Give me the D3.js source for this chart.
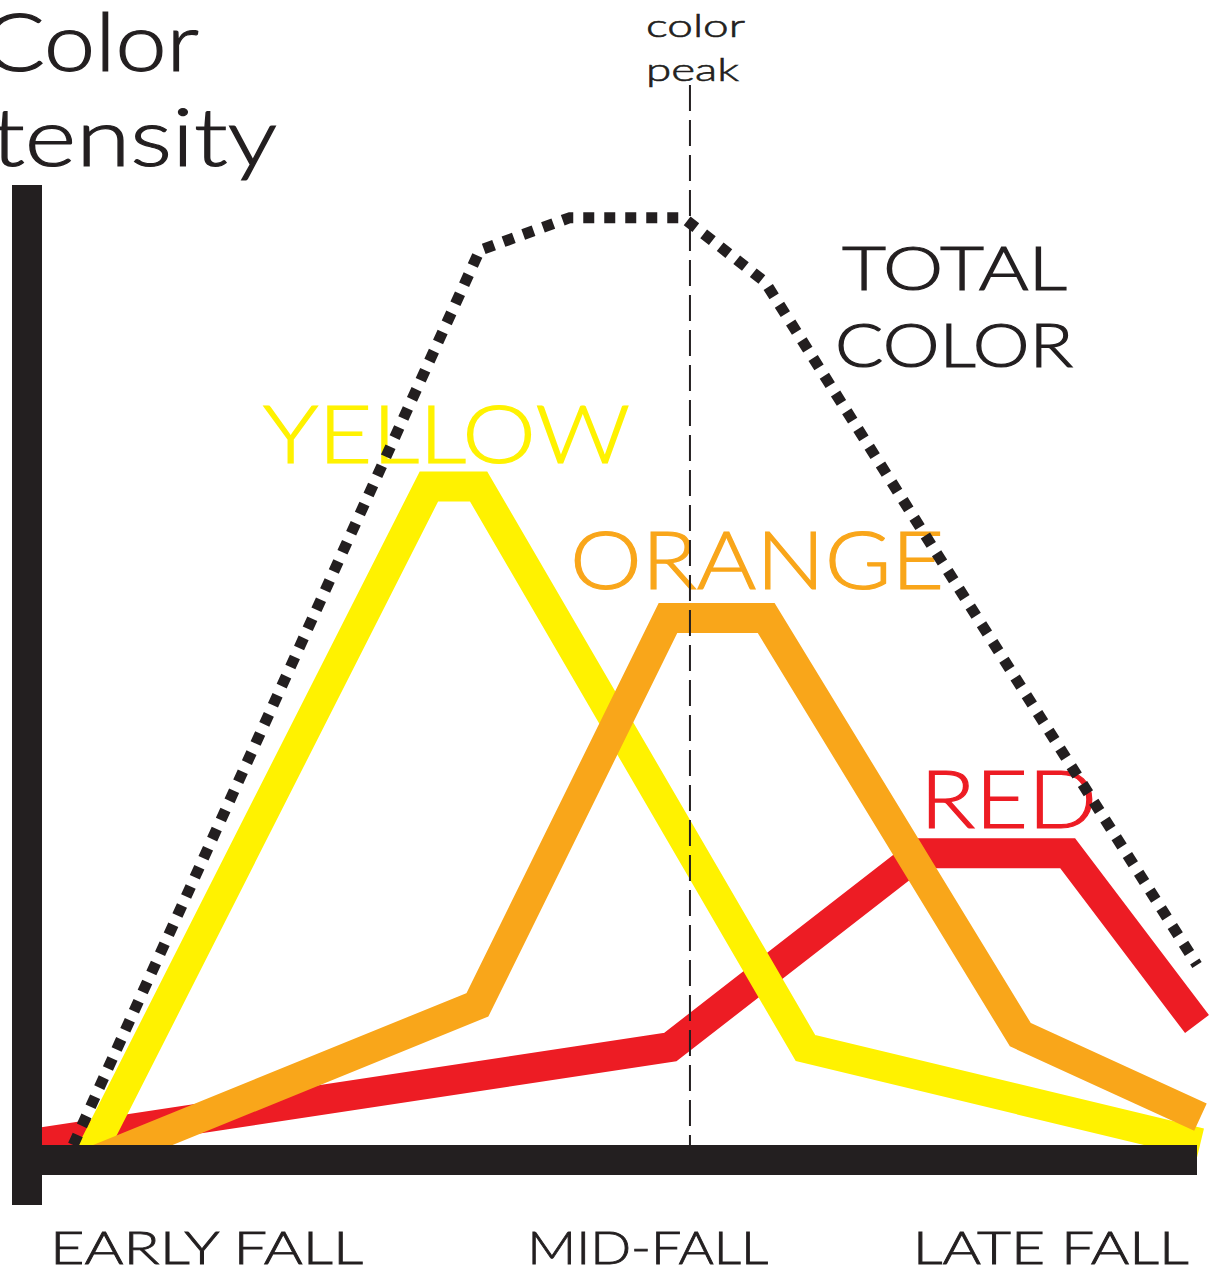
<!DOCTYPE html>
<html>
<head>
<meta charset="utf-8">
<script src="https://cdn.jsdelivr.net/npm/d3@7"></script>
<style>
    body { margin: 0; background: #fff; }
    text { font-family: Lato, 'Noto Sans', sans-serif; font-weight: 300; stroke-width: 1.2px; }
</style>
</head>
<body>
<svg id="chart" width="1217" height="1271"></svg>
<script>
// season progress (0-100) vs colour intensity (0-100)
var yellowX = [4, 33.5, 37.8, 66.1, 100.3]
var yellowY = [-1.4, 68.6, 68.6, 10.1, 0.2]

var orangeX = [4.6, 37.7, 54.2, 62.7, 84.7, 100.3]
var orangeY = [-1.6, 14.6, 54.9, 54.9, 11.5, 2.9]

var redX = [-1, 54.4, 76, 88.8, 100]
var redY = [0.1, 10.2, 30.4, 30.4, 12.6]

var totalX = [2.7, 37.9, 45.7, 55.5, 62.6, 100]
var totalY = [0, 93.2, 96.6, 96.6, 89.9, 18.75]

var peakX = 56.1

var tickLabels = ['EARLY FALL', 'MID-FALL', 'LATE FALL']
var tickValues = [14.2, 52.4, 87.3]

var colorYellow = '#fff200'
var colorOrange = '#f9a61a'
var colorRed = '#ed1c24'
var colorInk = '#231f20'

var svg = d3.select('#chart')

var xScale = d3.scaleLinear().domain([0, 100]).range([42, 1197])
var yScale = d3.scaleLinear().domain([0, 100]).range([1145, 185])

var line = d3.line()
    .x(function (d) { return xScale(d[0]) })
    .y(function (d) { return yScale(d[1]) })

function zip(xs, ys) {
    return xs.map(function (x, i) { return [x, ys[i]] })
}

// widen the glyphs a bit so Lato looks closer to the original geometric face
function stretch(sel, w) {
    sel.attr('textLength', w).attr('lengthAdjust', 'spacingAndGlyphs')
}

// title, cut off on the left like the original
svg.append('text')
    .attr('x', 199).attr('y', 71)
    .attr('text-anchor', 'end')
    .style('font-size', '80px')
    .style('fill', colorInk)
    .style('stroke', colorInk)
    .text('Color')
    .call(stretch, 216)
svg.append('text')
    .attr('x', 277).attr('y', 166)
    .attr('text-anchor', 'end')
    .style('font-size', '80px')
    .style('fill', colorInk)
    .style('stroke', colorInk)
    .text('Intensity')
    .call(stretch, 364)

// series labels
var labels = [
    { t: 'YELLOW', x: 263, y: 463, w: 367, s: 80, c: colorYellow },
    { t: 'ORANGE', x: 570, y: 589, w: 374, s: 80, c: colorOrange },
    { t: 'RED', x: 920, y: 828, w: 177, s: 80, c: colorRed },
    { t: 'TOTAL', x: 842, y: 290, w: 225, s: 62, c: colorInk },
    { t: 'COLOR', x: 835, y: 367, w: 238, s: 62, c: colorInk }
]
svg.selectAll('.seriesLabel')
    .data(labels)
    .enter()
    .append('text')
    .attr('class', 'seriesLabel')
    .attr('x', function (d) { return d.x })
    .attr('y', function (d) { return d.y })
    .attr('textLength', function (d) { return d.w })
    .attr('lengthAdjust', 'spacingAndGlyphs')
    .style('font-size', function (d) { return d.s + 'px' })
    .style('fill', function (d) { return d.c })
    .style('stroke', function (d) { return d.c })
    .text(function (d) { return d.t })

// coloured series
var series = [
    { pts: zip(redX, redY), c: colorRed },
    { pts: zip(yellowX, yellowY), c: colorYellow },
    { pts: zip(orangeX, orangeY), c: colorOrange }
]
svg.selectAll('.series')
    .data(series)
    .enter()
    .append('path')
    .attr('class', 'series')
    .attr('d', function (d) { return line(d.pts) })
    .style('fill', 'none')
    .style('stroke', function (d) { return d.c })
    .style('stroke-width', 30)
    .style('stroke-linejoin', 'miter')
    .style('stroke-linecap', 'butt')

// total colour, square dots
svg.append('path')
    .attr('d', line(zip(totalX, totalY)))
    .style('fill', 'none')
    .style('stroke', colorInk)
    .style('stroke-width', 11)
    .style('stroke-dasharray', '11,10')

// colour peak marker
svg.append('line')
    .attr('x1', xScale(peakX)).attr('x2', xScale(peakX))
    .attr('y1', 85).attr('y2', yScale(0))
    .style('stroke', colorInk)
    .style('stroke-width', 2)
    .style('stroke-dasharray', '26,9')
svg.append('text')
    .attr('x', 646).attr('y', 37)
    .style('font-size', '31px')
    .style('fill', colorInk)
    .style('stroke', colorInk)
    .style('stroke-width', '0.6px')
    .text('color')
    .call(stretch, 99)
svg.append('text')
    .attr('x', 646).attr('y', 81)
    .style('font-size', '31px')
    .style('fill', colorInk)
    .style('stroke', colorInk)
    .style('stroke-width', '0.6px')
    .text('peak')
    .call(stretch, 93)

// axes
svg.append('rect')
    .attr('x', 12).attr('y', 185)
    .attr('width', 30).attr('height', 1020)
    .style('fill', colorInk)
svg.append('rect')
    .attr('x', 42).attr('y', yScale(0))
    .attr('width', xScale(100) - 42).attr('height', 30)
    .style('fill', colorInk)

var xAxis = d3.axisBottom(xScale)
    .tickValues(tickValues)
    .tickSize(0)
    .tickPadding(0)
    .tickFormat(function (d, i) { return tickLabels[i] })
var axisG = svg.append('g')
    .attr('transform', 'translate(0,1231)')
    .call(xAxis)
axisG.select('.domain').remove()
axisG.selectAll('text')
    .attr('dy', '0.72em')
    .attr('textLength', function (d, i) { return [313, 241, 276][i] })
    .attr('lengthAdjust', 'spacingAndGlyphs')
    .style('font-family', 'Lato, sans-serif')
    .style('font-weight', 300)
    .style('font-size', '46px')
    .style('fill', colorInk)
    .style('stroke', colorInk)
    .style('stroke-width', '0.8px')
</script>
</body>
</html>
